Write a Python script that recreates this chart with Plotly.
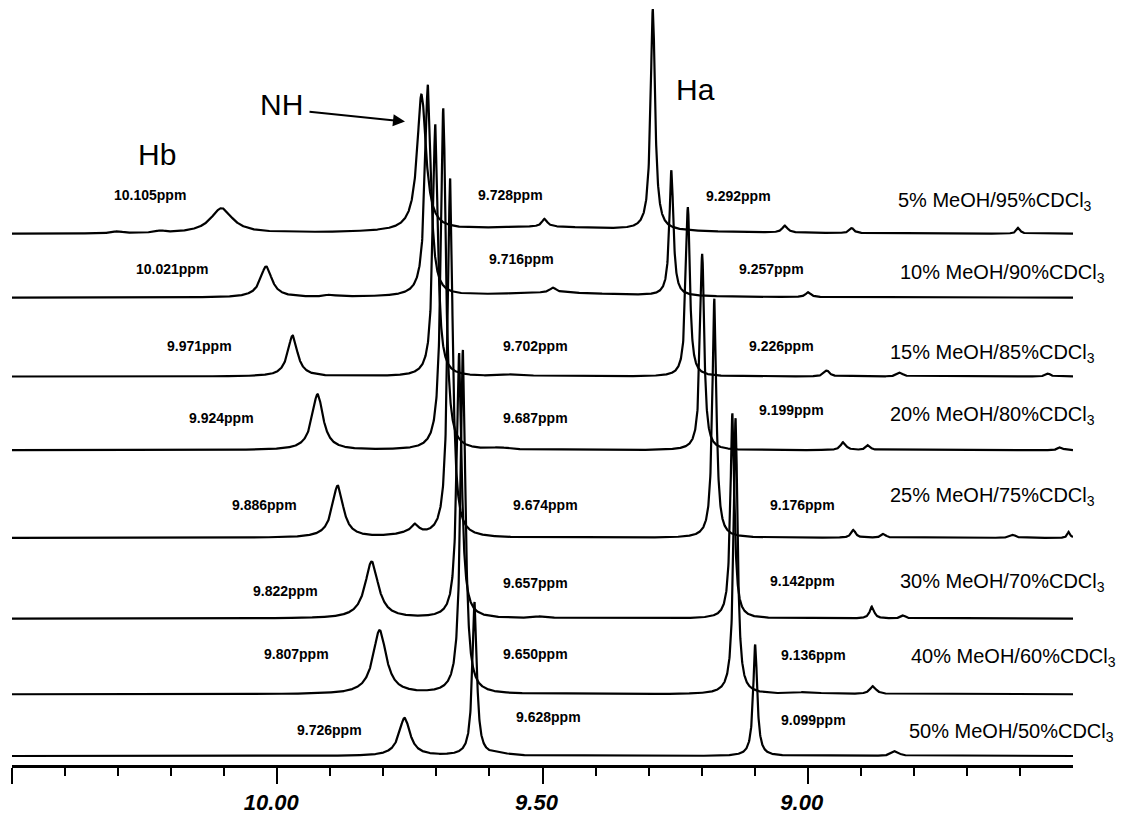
import numpy as np
import plotly.graph_objects as go

# ---------------- data ----------------
solvents = ["5% MeOH/95%CDCl<sub>3</sub>", "10% MeOH/90%CDCl<sub>3</sub>",
            "15% MeOH/85%CDCl<sub>3</sub>", "20% MeOH/80%CDCl<sub>3</sub>",
            "25% MeOH/75%CDCl<sub>3</sub>", "30% MeOH/70%CDCl<sub>3</sub>",
            "40% MeOH/60%CDCl<sub>3</sub>", "50% MeOH/50%CDCl<sub>3</sub>"]

# stacking offset of each spectrum (intensity units, bottom = 0)
trace_offset = [533, 469, 390, 316, 228, 147, 71, 9]

# Hb signal
hb_label = ["10.105", "10.021", "9.971", "9.924", "9.886", "9.822", "9.807", "9.726"]
hb_ppm = [10.105, 10.021, 9.971, 9.924, 9.886, 9.822, 9.807, 9.760]
hb_height = [25, 31, 41, 56, 52, 57, 64, 38]
hb_fwhm = [0.050, 0.026, 0.022, 0.025, 0.025, 0.030, 0.030, 0.025]

# NH signal
nh_label = ["9.728", "9.716", "9.702", "9.687", "9.674", "9.657", "9.650", "9.628"]
nh_ppm = [9.728, 9.716, 9.702, 9.687, 9.674, 9.657, 9.650, 9.628]
nh_height = [137, 212, 253, 343, 360, 266, 345, 154]
nh_fwhm = [0.020, 0.013, 0.011, 0.011, 0.011, 0.011, 0.011, 0.010]

# Ha signal
ha_label = ["9.292", "9.257", "9.226", "9.199", "9.176", "9.142", "9.136", "9.099"]
ha_ppm = [9.292, 9.257, 9.226, 9.199, 9.176, 9.142, 9.136, 9.099]
ha_height = [222, 126, 170, 197, 240, 206, 277, 112]
ha_fwhm = [0.010, 0.009, 0.009, 0.009, 0.009, 0.009, 0.009, 0.009]

# small / broad extra signals (ppm, height, fwhm) per spectrum
small_peaks = [
    [(9.496, 8, 0.012), (9.043, 7, 0.012), (8.917, 5, 0.010), (8.603, 6, 0.008),
     (9.50, 7, 0.45), (10.30, 2, 0.02), (10.22, 2, 0.02)],
    [(9.480, 5, 0.015), (8.999, 5, 0.012), (9.48, 5, 0.35), (9.90, 2, 0.02)],
    [(8.964, 6, 0.012), (8.826, 4, 0.012), (8.547, 3, 0.010), (9.55, 2, 0.05)],
    [(8.933, 8, 0.012), (8.886, 5, 0.010), (8.524, 3, 0.010), (9.58, 2, 0.04)],
    [(9.740, 8, 0.015), (8.914, 8, 0.010), (8.857, 4, 0.010), (8.613, 3, 0.012),
     (8.508, 6, 0.006), (9.75, 4, 0.06)],
    [(8.879, 12, 0.010), (8.820, 3, 0.010), (9.50, 2, 0.03)],
    [(8.877, 8, 0.014), (9.00, 2, 0.05)],
    [(8.835, 5, 0.016), (9.58, 2, 0.04)],
]

major_ticks = [10.5, 10.0, 9.5, 9.0]
major_text = ["", "10.00", "9.50", "9.00"]
minor_ticks = [10.4, 10.3, 10.2, 10.1, 9.9, 9.8, 9.7, 9.6, 9.4, 9.3, 9.2, 9.1,
               8.9, 8.8, 8.7, 8.6]

# ---------------- layout geometry ----------------
W, H = 1125, 815
ML, MR, MT, MB = 12, 52, 0, 47
PLOT_W = W - ML - MR
PLOT_H = H - MT - MB
X_LEFT, X_RIGHT = 10.5, 8.5


def px2ppm(px):
    return X_LEFT - (px - ML) / PLOT_W * (X_LEFT - X_RIGHT)


def py2y(py):
    return PLOT_H - (py - MT)


def lorentz(x, x0, h, w):
    return h / (1.0 + ((x - x0) / (w / 2.0)) ** 2)


x = np.linspace(X_RIGHT, X_LEFT, 6001)

fig = go.Figure()
for i in range(len(solvents)):
    y = np.full_like(x, float(trace_offset[i]))
    y = y + lorentz(x, hb_ppm[i], hb_height[i], hb_fwhm[i])
    y = y + lorentz(x, nh_ppm[i], nh_height[i], nh_fwhm[i])
    y = y + lorentz(x, ha_ppm[i], ha_height[i], ha_fwhm[i])
    for (p, h, w) in small_peaks[i]:
        y = y + lorentz(x, p, h, w)
    fig.add_trace(go.Scatter(x=x, y=y, mode="lines",
                             line=dict(color="black", width=2.2),
                             hoverinfo="skip", showlegend=False))

FONT = "Arial, Liberation Sans, Helvetica, sans-serif"
ann = []


def add_text(px, py, text, size, bold=False):
    ann.append(dict(x=px2ppm(px), y=py2y(py), xref="x", yref="y",
                    text=("<b>%s</b>" % text) if bold else text,
                    showarrow=False, xanchor="center", yanchor="middle",
                    font=dict(family=FONT, size=size, color="black")))


# peak position labels
hb_lab_px = [(150, 196), (172, 270), (199, 347), (221, 420), (264, 507), (285, 593), (296, 657), (329, 733)]
nh_lab_px = [(510, 196), (521, 260), (535, 347), (535, 420), (545, 507), (535, 585), (535, 657), (548, 720)]
ha_lab_px = [(738, 197), (771, 270), (781, 347), (791, 412), (802, 507), (802, 583), (813, 658), (813, 723)]
solv_px = [(995, 202), (1002, 275), (992, 355), (992, 417), (992, 498), (1002, 585), (1013, 660), (1011, 735)]

for i in range(len(solvents)):
    add_text(*hb_lab_px[i], hb_label[i] + "ppm", 14, bold=True)
    add_text(*nh_lab_px[i], nh_label[i] + "ppm", 14, bold=True)
    add_text(*ha_lab_px[i], ha_label[i] + "ppm", 14, bold=True)
    add_text(*solv_px[i], solvents[i], 20)

add_text(157, 155, "Hb", 30)
add_text(281, 105, "NH", 30)
add_text(695, 90, "Ha", 30)
add_text(43, 800, "<i>ppm</i>", 23, bold=True)

# NH arrow
ann.append(dict(x=px2ppm(405), y=py2y(122), xref="x", yref="y",
                ax=px2ppm(308), ay=py2y(112), axref="x", ayref="y",
                text="", showarrow=True, arrowhead=2, arrowsize=1.2,
                arrowwidth=2, arrowcolor="black"))

fig.update_layout(
    width=W, height=H,
    margin=dict(l=ML, r=MR, t=MT, b=MB),
    paper_bgcolor="white", plot_bgcolor="white",
    annotations=ann,
    xaxis=dict(range=[X_LEFT, X_RIGHT], showgrid=False, zeroline=False,
               showline=True, linecolor="black", linewidth=3,
               tickmode="array", tickvals=major_ticks,
               ticktext=["<b><i>%s</i></b>" % t if t else "" for t in major_text],
               ticks="outside", ticklen=16, tickwidth=2, tickcolor="black",
               tickfont=dict(family=FONT, size=22, color="black"),
               ticklabelshift=6,
               minor=dict(tickmode="array", tickvals=minor_ticks, ticks="outside",
                          ticklen=8, tickwidth=2, tickcolor="black", showgrid=False)),
    yaxis=dict(range=[0, PLOT_H], visible=False, showgrid=False, zeroline=False),
)

fig.write_html("out.html")
